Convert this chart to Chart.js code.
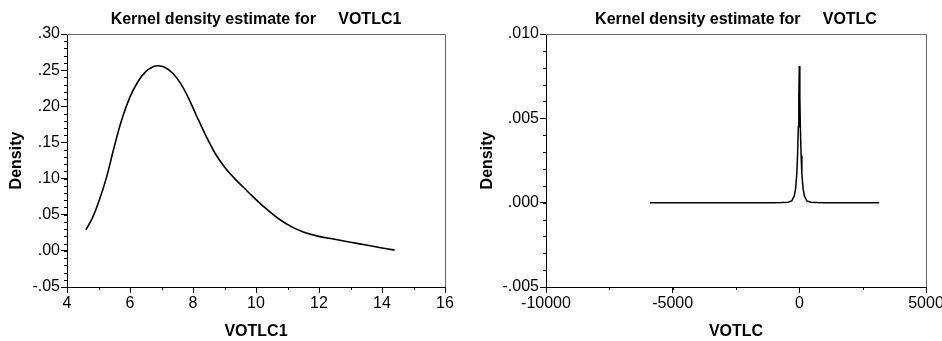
<!DOCTYPE html>
<html>
<head>
<meta charset="utf-8">
<script src="https://cdn.jsdelivr.net/npm/chart.js@4.4.1/dist/chart.umd.min.js"></script>
<style>
  body { margin: 0; background: #fff; }
  #wrap { position: relative; width: 942px; height: 341px; }
  canvas { position: absolute; top: 0; }
  #c1 { left: 0; }
  #c2 { left: 471px; }
</style>
</head>
<body>
<div id="wrap">
  <canvas id="c1" width="471" height="341"></canvas>
  <canvas id="c2" width="471" height="341"></canvas>
</div>
<script>
// Dados: VOTLC1
const votlc1X = [4.6, 4.8, 5.0, 5.25, 5.5, 5.75, 6.0, 6.25, 6.5, 6.75, 6.9, 7.1, 7.35, 7.6, 7.85, 8.1, 8.4, 8.7, 9.0, 9.3, 9.6, 9.9, 10.2, 10.5, 10.8, 11.1, 11.5, 12.0, 12.5, 13.0, 13.5, 14.0, 14.4];
const votlc1Y = [0.029, 0.045, 0.067, 0.101, 0.144, 0.183, 0.213, 0.234, 0.248, 0.255, 0.256, 0.254, 0.246, 0.232, 0.212, 0.188, 0.160, 0.135, 0.116, 0.101, 0.088, 0.075, 0.063, 0.052, 0.042, 0.034, 0.026, 0.020, 0.016, 0.012, 0.008, 0.004, 0.001];

// Dados: VOTLC
const votlcX = [-5900, -3000, -1000, -700, -450, -300, -200, -150, -100, -70, -40, -20, 0, 20, 40, 70, 100, 150, 200, 300, 450, 700, 1000, 3150];
const votlcY = [0, 0, 0, 0.000005, 0.00002, 0.0001, 0.0004, 0.0008, 0.0017, 0.0028, 0.0045, 0.0062, 0.0081, 0.0062, 0.0045, 0.0028, 0.0017, 0.0008, 0.0004, 0.0001, 0.00002, 0.000005, 0, 0];

// Ticks dos eixos
const ticks1X = { min: 4, max: 16, major: 2, minor: 1 };
const ticks1Y = { min: -0.05, max: 0.30, major: 0.05, minor: 0.01 };
const ticks2X = { min: -10000, max: 5000, major: 5000, minor: 2500 };
const ticks2Y = { min: -0.005, max: 0.010, major: 0.005, minor: 0.001 };

const FONT = "'Liberation Sans', Arial, sans-serif";

function fmtDec(v, d) {
  const s = Math.abs(v).toFixed(d).replace(/^0/, '');
  return (v < -1e-12 ? '-' : '') + s;
}

// Ticks menores e moldura (topo/direita)
const molduraPlugin = {
  id: 'moldura',
  afterDraw(chart) {
    const ctx = chart.ctx;
    const a = chart.chartArea;
    const o = chart.options.plugins.moldura;
    const xs = chart.scales.x, ys = chart.scales.y;
    ctx.save();
    ctx.strokeStyle = '#666';
    ctx.lineWidth = 1;
    ctx.beginPath();
    ctx.moveTo(a.left, a.top + 0.5);
    ctx.lineTo(a.right + 0.5, a.top + 0.5);
    ctx.lineTo(a.right + 0.5, a.bottom);
    ctx.stroke();
    ctx.strokeStyle = '#000';
    ctx.beginPath();
    const nx = Math.round((o.x.max - o.x.min) / o.x.minor);
    for (let i = 0; i <= nx; i++) {
      const v = o.x.min + i * o.x.minor;
      const px = Math.round(xs.getPixelForValue(v)) + 0.5;
      ctx.moveTo(px, a.bottom);
      ctx.lineTo(px, a.bottom + 3);
    }
    const ny = Math.round((o.y.max - o.y.min) / o.y.minor);
    for (let i = 0; i <= ny; i++) {
      const v = o.y.min + i * o.y.minor;
      const py = Math.round(ys.getPixelForValue(v)) + 0.5;
      ctx.moveTo(a.left, py);
      ctx.lineTo(a.left - 3, py);
    }
    ctx.stroke();
    ctx.restore();
  }
};

function criarGrafico(id, xs, ys, tx, ty, dec, nome, yW, lineW, tens) {
  const pts = xs.map((x, i) => ({ x: x, y: ys[i] }));
  return new Chart(document.getElementById(id), {
    type: 'line',
    data: {
      datasets: [{
        data: pts,
        borderColor: '#000',
        borderWidth: lineW,
        pointRadius: 0,
        fill: false,
        tension: tens
      }]
    },
    options: {
      responsive: false,
      animation: false,
      layout: { padding: { left: 0, right: id === 'c1' ? 26 : 16, top: 0, bottom: 0 } },
      plugins: {
        legend: { display: false },
        tooltip: { enabled: false },
        title: {
          display: true,
          text: 'Kernel density estimate for     ' + nome,
          fullSize: false,
          color: '#000',
          font: { family: FONT, size: 16, weight: 'bold', lineHeight: 1.2 },
          padding: { top: 10, bottom: 4.8 }
        },
        moldura: { x: tx, y: ty }
      },
      scales: {
        x: {
          type: 'linear',
          min: tx.min, max: tx.max,
          afterFit(s) { s.height = 54; s.paddingLeft = 0; s.paddingRight = 0; },
          grid: { drawOnChartArea: false, drawTicks: true, tickLength: 6, tickColor: '#000' },
          border: { color: '#000', width: 1 },
          ticks: {
            stepSize: tx.major,
            autoSkip: false,
            maxRotation: 0,
            padding: 1,
            color: '#000',
            font: { family: FONT, size: 16 },
            callback: v => String(v)
          },
          title: {
            display: true,
            text: nome,
            color: '#000',
            font: { family: FONT, size: 16, weight: 'bold', lineHeight: 1.2 },
            padding: { top: 0, bottom: 0 }
          }
        },
        y: {
          min: ty.min, max: ty.max,
          afterFit(s) { s.width = yW; s.paddingTop = 0; s.paddingBottom = 0; },
          grid: { drawOnChartArea: false, drawTicks: true, tickLength: 6, tickColor: '#000' },
          border: { color: '#000', width: 1 },
          ticks: {
            stepSize: ty.major,
            autoSkip: false,
            padding: 1,
            color: '#000',
            font: { family: FONT, size: 16 },
            callback: v => fmtDec(v, dec)
          },
          title: {
            display: true,
            text: 'Density',
            color: '#000',
            font: { family: FONT, size: 16, weight: 'bold', lineHeight: 1.2 },
            padding: { top: 7.4, bottom: 0 }
          }
        }
      }
    },
    plugins: [molduraPlugin]
  });
}

criarGrafico('c1', votlc1X, votlc1Y, ticks1X, ticks1Y, 2, 'VOTLC1', 67, 1.6, 0.4);
criarGrafico('c2', votlcX, votlcY, ticks2X, ticks2Y, 3, 'VOTLC', 75, 1.5, 0);
</script>
</body>
</html>
